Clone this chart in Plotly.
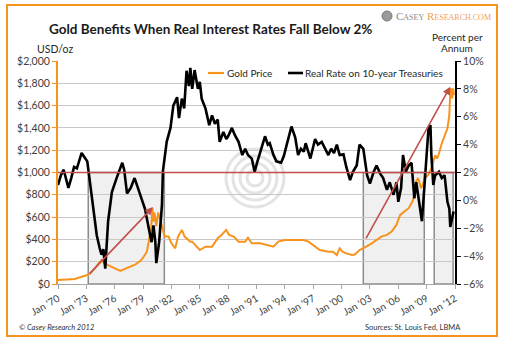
import plotly.graph_objects as go

# ---------------- data ----------------
rate_years = [1970.0, 1970.3, 1970.6, 1970.9, 1971.1, 1971.4, 1971.7, 1972.0, 1972.3, 1972.5,
              1972.8, 1973.1, 1973.4, 1973.7, 1974.1, 1974.4, 1974.6, 1974.8, 1975.0, 1975.3,
              1975.7, 1976.2, 1976.6, 1976.8, 1977.0, 1977.3, 1977.7, 1978.1, 1978.4, 1978.7,
              1979.2, 1979.6, 1979.9, 1980.1, 1980.3, 1980.4, 1980.7, 1981.0, 1981.1, 1981.5,
              1981.9, 1982.2, 1982.6, 1982.8, 1983.1, 1983.35, 1983.6, 1983.85, 1984.0, 1984.2,
              1984.45, 1984.8, 1985.0, 1985.2, 1985.6, 1986.0, 1986.3, 1986.6, 1986.9, 1987.1,
              1987.5, 1987.8, 1988.0, 1988.4, 1988.7, 1989.1, 1989.5, 1989.8, 1990.1, 1990.5,
              1990.8, 1991.1, 1991.4, 1991.9, 1992.2, 1992.4, 1992.8, 1993.1, 1993.6, 1993.9,
              1994.2, 1994.7, 1995.1, 1995.4, 1995.7, 1996.0, 1996.2, 1996.7, 1997.2, 1997.5,
              1997.9, 1998.3, 1998.6, 1998.9, 1999.2, 1999.5, 1999.8, 2000.2, 2000.5, 2000.9,
              2001.2, 2001.6, 2001.9, 2002.3, 2002.7, 2003.0, 2003.4, 2003.7, 2004.1, 2004.4,
              2004.8, 2005.1, 2005.5, 2005.8, 2006.0, 2006.3, 2006.5, 2006.8, 2007.1, 2007.4,
              2007.7, 2007.9, 2008.2, 2008.5, 2008.7, 2009.0, 2009.2, 2009.4, 2009.5, 2009.7,
              2009.9, 2010.1, 2010.3, 2010.6, 2010.9, 2011.2, 2011.4, 2011.5, 2011.7, 2011.85]
rate_values = [1.1, 1.8, 2.2, 1.5, 0.9, 1.6, 2.4, 2.3, 2.9, 3.4,
               3.1, 2.8, 1.2, -0.3, -2.5, -3.4, -3.9, -3.5, -4.9, -1.5,
               0.6, 1.6, 2.4, 2.7, 2.2, 0.5, 0.9, 1.6, 1.0, 0.4,
               -0.6, -2.0, -3.0, -1.8, -3.0, -4.5, -3.0, -0.3, 2.1, 4.2,
               5.2, 6.8, 7.4, 5.9, 7.3, 6.6, 9.3, 8.2, 9.5, 8.0,
               9.35, 8.0, 8.5, 7.3, 6.6, 5.4, 6.1, 5.5, 5.8, 4.2,
               4.9, 4.4, 4.6, 5.2, 4.7, 4.2, 3.25, 3.7, 3.25, 3.0,
               2.05, 2.8, 3.5, 4.6, 4.0, 4.1, 3.25, 2.8, 2.7, 3.2,
               4.0, 5.3, 4.5, 3.25, 3.7, 3.5, 4.1, 3.0, 4.4, 4.0,
               4.2, 3.6, 3.25, 3.7, 3.4, 4.0, 3.25, 3.3, 2.4, 1.45,
               2.05, 2.5, 4.0, 3.7, 1.8, 1.2, 2.05, 2.5, 1.9, 1.6,
               0.75, 1.3, 0.4, 1.3, -0.1, 0.9, 3.25, 2.05, 2.5, 2.7,
               0.15, 1.3, -0.3, -1.5, 0.4, 3.25, 5.2, 5.4, 3.25, 1.1,
               1.8, 1.9, 2.05, 1.6, 1.8, -0.1, -0.6, -1.9, -1.3, -0.8]

gold_years = [1970.0, 1971.0, 1971.8, 1972.5, 1973.1, 1973.4, 1973.6, 1973.9, 1974.3, 1974.6,
              1974.9, 1975.3, 1975.9, 1976.6, 1977.2, 1977.6, 1978.2, 1978.7, 1979.0, 1979.4,
              1979.6, 1979.85, 1980.0, 1980.1, 1980.2, 1980.4, 1980.6, 1980.8, 1981.0, 1981.3,
              1981.7, 1982.0, 1982.4, 1982.7, 1983.1, 1983.4, 1984.0, 1984.2, 1985.0, 1985.6,
              1986.3, 1986.9, 1987.3, 1987.8, 1988.1, 1988.6, 1989.1, 1989.8, 1990.1, 1990.5,
              1991.4, 1992.1, 1992.8, 1993.3, 1994.0, 1995.1, 1996.0, 1996.5, 1997.2, 1997.7,
              1998.6, 1999.1, 1999.5, 1999.8, 2000.1, 2000.5, 2001.1, 2001.4, 2001.9, 2002.3,
              2002.7, 2003.2, 2003.7, 2004.2, 2004.8, 2005.3, 2005.8, 2006.2, 2006.5, 2007.1,
              2007.5, 2007.7, 2007.9, 2008.1, 2008.4, 2008.6, 2008.8, 2009.2, 2009.5, 2009.7,
              2009.9, 2010.1, 2010.3, 2010.6, 2010.9, 2011.2, 2011.4, 2011.5, 2011.6, 2011.7,
              2011.8, 2011.9]
gold_prices = [36, 39, 45, 65, 80, 95, 110, 140, 185, 215,
               185, 170, 146, 117, 140, 155, 176, 206, 236, 290,
               380, 500, 680, 560, 640, 520, 640, 580, 500, 425,
               425, 365, 320, 425, 485, 425, 380, 380, 305, 335,
               335, 410, 440, 485, 440, 425, 380, 380, 415, 365,
               365, 350, 335, 380, 395, 395, 395, 380, 335, 305,
               290, 290, 260, 320, 290, 275, 260, 265, 305, 320,
               340, 365, 395, 425, 440, 470, 530, 620, 640, 680,
               740, 800, 920, 950, 860, 890, 950, 980, 1040, 1100,
               1155, 1125, 1170, 1260, 1335, 1395, 1515, 1725, 1755, 1665,
               1755, 1695]

tick_years = [1970, 1973, 1976, 1979, 1982, 1985, 1988, 1991, 1994, 1997, 2000, 2003, 2006, 2009, 2012]
tick_labels = ["Jan '70", "Jan '73", "Jan '76", "Jan '79", "Jan '82", "Jan '85", "Jan '88", "Jan '91",
               "Jan '94", "Jan '97", "Jan '00", "Jan '03", "Jan '06", "Jan '09", "Jan '12"]

threshold_usd = 1000          # 2% real rate level on the gold axis
shade_starts = [1973.2, 2002.3, 2009.8]
shade_ends = [1981.25, 2008.75, 2011.8]
arrow_starts = [(1973.2, 80), (2002.5, 395)]
arrow_ends = [(1980.05, 690), (2011.5, 1770)]

# ---------------- styling ----------------
W, H = 505, 348
PL, PR, PT, PB = 58, 455, 61, 284
ORANGE = "#F7941E"
RED = "#C0504D"
FONT = "Lato"


def px(x):
    return (x - PL) / (PR - PL)


def py(y):
    return (PB - y) / (PB - PT)


fig = go.Figure()
fig.add_trace(go.Scatter(x=gold_years, y=gold_prices, mode="lines", name="Gold Price",
                         line=dict(color=ORANGE, width=2), yaxis="y"))
fig.add_trace(go.Scatter(x=rate_years, y=rate_values, mode="lines", name="Real Rate on 10-year Treasuries",
                         line=dict(color="black", width=2.6), yaxis="y2"))

shapes = []
for s, e in zip(shade_starts, shade_ends):
    shapes.append(dict(type="rect", xref="x", yref="y", x0=s, x1=e, y0=0, y1=threshold_usd,
                       fillcolor="rgba(235,235,235,0.75)", line=dict(color="#8c8c8c", width=1.5),
                       layer="below"))
shapes.append(dict(type="line", xref="paper", yref="y", x0=0, x1=1, y0=threshold_usd, y1=threshold_usd,
                   line=dict(color=RED, width=1.3)))

# watermark rings
for r in [8, 15, 22, 29]:
    shapes.append(dict(type="circle", xref="paper", yref="paper", xsizemode="pixel", ysizemode="pixel",
                       xanchor=px(255), yanchor=py(178), x0=-r, x1=r, y0=-r, y1=r,
                       line=dict(color="rgba(200,200,200,0.5)", width=3), layer="below"))

# orange frame
shapes.append(dict(type="rect", xref="paper", yref="paper", x0=px(7), x1=px(497), y0=py(336), y1=py(5),
                   line=dict(color=ORANGE, width=2)))

# manual legend samples
shapes.append(dict(type="line", xref="paper", yref="paper", x0=px(208), x1=px(224), y0=py(73), y1=py(73),
                   line=dict(color=ORANGE, width=2.2)))
shapes.append(dict(type="line", xref="paper", yref="paper", x0=px(288), x1=px(303), y0=py(73), y1=py(73),
                   line=dict(color="black", width=2.6)))
# logo icon
shapes.append(dict(type="circle", xref="paper", yref="paper", xsizemode="pixel", ysizemode="pixel",
                   xanchor=px(387), yanchor=py(16), x0=-5, x1=5, y0=-5, y1=5,
                   fillcolor="#9a9a9a", line=dict(color="#7a7a7a", width=1)))

annotations = []
for (sx, sy), (ex, ey) in zip(arrow_starts, arrow_ends):
    annotations.append(dict(x=ex, y=ey, ax=sx, ay=sy, xref="x", yref="y", axref="x", ayref="y",
                            showarrow=True, arrowhead=2, arrowsize=1, arrowwidth=1.6,
                            arrowcolor=RED, text=""))


def label(text, x, y, size, xanchor="center", color="#262626", family=FONT, align="center"):
    return dict(text=text, x=px(x), y=py(y), xref="paper", yref="paper", xanchor=xanchor,
                yanchor="middle", showarrow=False, align=align,
                font=dict(family=family, size=size, color=color))


annotations += [
    label("<b>Gold Benefits When Real Interest Rates Fall Below 2%</b>", 210, 29, 13.5, color="#1a1a1a"),
    label("USD/oz", 55, 49, 10.5),
    label("Percent per", 457, 37, 10),
    label("Annum", 457, 48, 10),
    label("Gold Price", 225, 73, 10, xanchor="left"),
    label("Real Rate on 10-year Treasuries", 303, 73, 10, xanchor="left"),
    label("<i>© Casey Research 2012</i>", 17, 327, 7.5, xanchor="left", color="#333333"),
    label("Sources: St. Louis Fed, LBMA", 463, 327, 7.5, xanchor="right", color="#333333"),
    label("C<span style='font-size:8px'>ASEY</span> <span style='color:#F0A060'>R</span>"
          "<span style='font-size:8px;color:#F0A060'>ESEARCH.COM</span>",
          394, 16, 11, xanchor="left", color="#8a8a8a", family="Liberation Serif"),
]

fig.update_layout(
    width=W, height=H, autosize=False,
    margin=dict(l=PL, r=W - PR, t=PT, b=H - PB, pad=0),
    paper_bgcolor="white", plot_bgcolor="white",
    showlegend=False,
    font=dict(family=FONT, size=11, color="#262626"),
    xaxis=dict(range=[1970, 2012], tickvals=tick_years, ticktext=tick_labels, tickangle=-30,
               showgrid=False, zeroline=False, showline=True, linecolor="#a6a6a6", linewidth=1,
               ticks="outside", ticklen=4, tickcolor="#a6a6a6", tickfont=dict(size=10, color="#404040")),
    yaxis=dict(range=[0, 2000], dtick=200, tickprefix="$", tickformat=",", showgrid=True,
               gridcolor="#c8c8c8", gridwidth=1, zeroline=False, showline=True, linecolor=ORANGE,
               linewidth=2, ticks="outside", ticklen=4, tickcolor=ORANGE,
               tickfont=dict(size=10.5, color="#404040")),
    yaxis2=dict(range=[-6, 10], dtick=2, ticksuffix="%", overlaying="y", side="right", showgrid=False,
                zeroline=False, showline=True, linecolor="black", linewidth=2, ticks="outside",
                ticklen=4, tickcolor="black", tickfont=dict(size=10.5, color="#404040")),
    shapes=shapes,
    annotations=annotations,
)

fig.write_html("out.html")
